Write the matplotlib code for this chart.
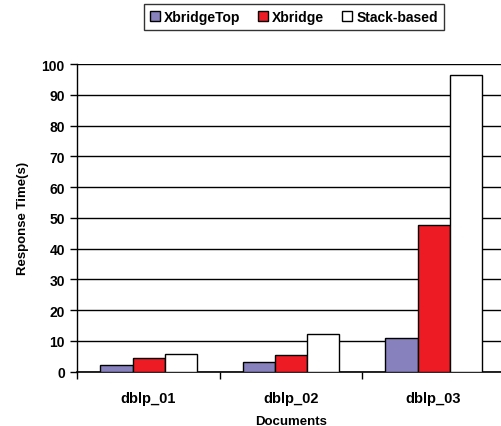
import matplotlib
matplotlib.use("Agg")
import matplotlib.pyplot as plt
import numpy as np

plt.rcParams['font.family'] = ['Liberation Sans', 'DejaVu Sans']
plt.rcParams['font.weight'] = 'bold'

documents = ["dblp_01", "dblp_02", "dblp_03"]
series_names = ["XbridgeTop", "Xbridge", "Stack-based"]
xbridge_top = [2.3, 3.05, 11.0]
xbridge = [4.45, 5.35, 47.7]
stack_based = [5.75, 12.35, 96.3]
y_ticks = [0, 10, 20, 30, 40, 50, 60, 70, 80, 90, 100]

colors = ["#8781bd", "#ed1c24", "#ffffff"]

fig = plt.figure(figsize=(5.01, 4.27), dpi=100)
# right edge of the plot area runs slightly past the canvas
ax = fig.add_axes([77.3 / 501, 1 - 372.7 / 427, 427.5 / 501, 307.6 / 427])

x = np.arange(len(documents))
width = 0.225
for i, (vals, name, c) in enumerate(zip([xbridge_top, xbridge, stack_based], series_names, colors)):
    ax.bar(x + (i - 1) * width, vals, width, color=c, edgecolor="black",
           linewidth=1.0, label=name, zorder=3)

ax.set_xlim(-0.5, len(documents) - 0.5)
ax.set_ylim(0, 100)
ax.set_yticks(y_ticks)
ax.yaxis.grid(True, color="black", linewidth=1.0, zorder=0)
ax.set_axisbelow(True)

for side in ["top", "right"]:
    ax.spines[side].set_visible(False)
ax.spines["left"].set_linewidth(1.0)
ax.spines["bottom"].set_linewidth(1.2)

ax.set_xticks(x)
ax.set_xticklabels(documents, fontsize=10.5, fontweight="bold")
ax.tick_params(axis="x", length=0, pad=14)
ax.set_xticks(np.arange(len(documents) + 1) - 0.5, minor=True)
ax.tick_params(axis="x", which="minor", length=5, width=1.0, direction="out")
ax.tick_params(axis="y", length=5, width=1.0, direction="out", labelsize=10, pad=4)
for lbl in ax.get_yticklabels():
    lbl.set_fontweight("bold")

ax.set_ylabel("Response Time(s)", fontsize=9.5, fontweight="bold", labelpad=9)
ax.set_xlabel("Documents", fontsize=9.5, fontweight="bold", labelpad=7)

leg = fig.legend(loc="center", bbox_to_anchor=(294 / 501, 1 - 18 / 427), ncol=3,
                 frameon=True, fancybox=False, edgecolor="black",
                 prop={"weight": "bold", "size": 10},
                 handlelength=0.7, handleheight=0.7, handletextpad=0.3,
                 columnspacing=1.3, borderpad=0.4)
leg.get_frame().set_linewidth(1.0)

fig.savefig("out.png", dpi=100)
